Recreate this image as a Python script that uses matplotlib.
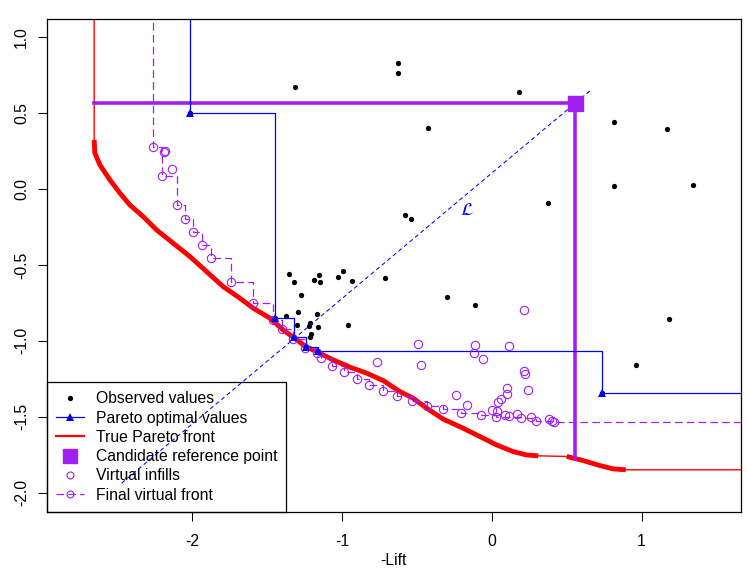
import numpy as np
import matplotlib
matplotlib.use("Agg")
import matplotlib.pyplot as plt
from matplotlib.lines import Line2D

plt.rcParams['font.family'] = ['Liberation Sans', 'DejaVu Sans']
plt.rcParams['axes.unicode_minus'] = False
plt.rcParams['lines.scale_dashes'] = False

PURPLE = '#A020F0'

# observed objective values (-Lift, second objective)
obs_x = [-1.312, -0.627, -0.627, 0.183, -0.425, 0.817, 1.171, 0.817, 1.344, 0.376,
         -0.578, -0.538, 1.182, 0.964, -0.298, -0.111, -0.959, -0.712, -1.352, -1.319,
         -1.152, -1.186, -1.146, -1.025, -0.992, -0.932, -1.272, -1.292, -1.166, -1.373,
         -1.212, -1.223, -1.299, -1.159, -1.206, -1.212,
         -2.013, -1.446, -1.319, -1.241, -1.159, 0.737]
obs_y = [0.671, 0.831, 0.765, 0.638, 0.401, 0.440, 0.394, 0.018, 0.025, -0.094,
         -0.171, -0.199, -0.856, -1.161, -0.713, -0.765, -0.897, -0.588, -0.561, -0.614,
         -0.568, -0.601, -0.614, -0.581, -0.542, -0.607, -0.698, -0.812, -0.825, -0.838,
         -0.884, -0.902, -0.897, -0.910, -0.957, -0.976,
         0.499, -0.851, -0.976, -1.038, -1.067, -1.341]

# pareto optimal observations
par_x = [-2.013, -1.446, -1.319, -1.241, -1.159, 0.737]
par_y = [0.499, -0.851, -0.976, -1.038, -1.067, -1.341]

# true pareto front (dense part), gap between index 32 and 33
front_x = [-2.654, -2.650, -2.616, -2.549, -2.483, -2.416, -2.327, -2.238, -2.127, -2.015,
           -1.904, -1.793, -1.682, -1.593, -1.481, -1.393, -1.326, -1.248, -1.170, -1.059,
           -0.947, -0.836, -0.725, -0.613, -0.525, -0.435, -0.324, -0.191, -0.079, 0.032,
           0.143, 0.232, 0.310,
           0.501, 0.610, 0.722, 0.810, 0.895]
front_y = [0.323, 0.238, 0.159, 0.060, -0.026, -0.105, -0.182, -0.269, -0.357, -0.445,
           -0.544, -0.643, -0.719, -0.785, -0.851, -0.928, -0.976, -1.034, -1.071, -1.126,
           -1.174, -1.213, -1.262, -1.335, -1.378, -1.444, -1.516, -1.576, -1.631, -1.686,
           -1.730, -1.752, -1.758,
           -1.762, -1.789, -1.822, -1.844, -1.850]
gap_at = 33

# candidate reference point
ref_x = 0.557
ref_y = 0.569

# line L
lline_x = [-2.471, 0.655]
lline_y = [-1.938, 0.646]
lab_x, lab_y = -0.168, -0.142

# virtual infills lying on the final virtual front
vf_x = [-2.260, -2.200, -2.100, -2.047, -1.993, -1.933, -1.872, -1.738, -1.597, -1.459,
        -1.403, -1.324, -1.244, -1.164, -1.141, -1.064, -0.985, -0.897, -0.818, -0.724,
        -0.630, -0.533, -0.430, -0.324, -0.202, -0.071, 0.029, 0.192, 0.298, 0.417]
vf_y = [0.277, 0.086, -0.105, -0.199, -0.283, -0.368, -0.454, -0.614, -0.748, -0.862,
        -0.924, -0.987, -1.047, -1.080, -1.115, -1.163, -1.207, -1.252, -1.294, -1.332,
        -1.366, -1.399, -1.432, -1.451, -1.477, -1.489, -1.505, -1.510, -1.526, -1.536]

# other virtual infills
vi_x = [-2.189, -2.180, -2.134, 0.216, -0.491, -0.111, -0.117, 0.114, -0.471, -0.057,
        -0.769, 0.216, 0.223, 0.243, 0.103, 0.103, 0.065, 0.043, -0.238, -0.164,
        0.003, 0.036, 0.089, 0.116, 0.166, 0.259, 0.383, 0.399]
vi_y = [0.246, 0.251, 0.130, -0.798, -1.022, -1.029, -1.082, -1.036, -1.161, -1.121,
        -1.141, -1.198, -1.220, -1.323, -1.310, -1.352, -1.381, -1.404, -1.358, -1.424,
        -1.455, -1.464, -1.490, -1.495, -1.484, -1.501, -1.516, -1.526]

fig = plt.figure(figsize=(7.49, 5.71), dpi=100)
ax = fig.add_axes([46.7 / 749, 1 - 512 / 571, (741 - 46.7) / 749, (512 - 19) / 571])
ax.set_xlim(-2.971, 1.664)
ax.set_ylim(-2.128, 1.120)

big = 10.0

# true front: thin connecting line + thick dense part
ax.plot([front_x[0]] + front_x + [big], [big] + front_y + [front_y[-1]],
        color='red', lw=1.0, zorder=2)
ax.plot(front_x[:gap_at], front_y[:gap_at], color='red', lw=3.5,
        solid_capstyle='butt', zorder=2.1)
ax.plot(front_x[gap_at:], front_y[gap_at:], color='red', lw=3.5,
        solid_capstyle='butt', zorder=2.1)

# reference point and its box
ref_floor = np.interp(ref_x, front_x, front_y)
ax.plot([front_x[0], ref_x], [ref_y, ref_y], color=PURPLE, lw=2.6, zorder=3)
ax.plot([ref_x, ref_x], [ref_y, ref_floor], color=PURPLE, lw=2.6, zorder=3)
ax.plot([ref_x], [ref_y], 's', color=PURPLE, ms=10.8, zorder=4)

# line L
ax.plot(lline_x, lline_y, color='blue', lw=0.75, ls=(0, (3, 2.2)), zorder=3.5)
ax.text(lab_x, lab_y, r'$\mathcal{L}$', color='blue', fontsize=13,
        ha='center', va='center')

# observed points
ax.plot(obs_x, obs_y, 'o', color='black', ms=3.8, mew=0, zorder=3)

# pareto staircase
sx = [par_x[0]] + par_x + [big]
sy = [big] + par_y + [par_y[-1]]
ax.step(sx, sy, where='post', color='blue', lw=0.9, zorder=3)
ax.plot(par_x, par_y, '^', color='blue', ms=6, mew=0, zorder=3.2)

# virtual infills
ax.plot(vi_x + vf_x, vi_y + vf_y, 'o', mfc='none', mec=PURPLE, ms=6, mew=0.8, zorder=3)

# final virtual front
fx = [vf_x[0]] + vf_x + [big]
fy = [big] + vf_y + [vf_y[-1]]
ax.step(fx, fy, where='post', color=PURPLE, lw=0.9, ls=(0, (5.5, 3)), zorder=3)

ax.set_xticks([-2, -1, 0, 1])
ax.set_yticks([-2.0, -1.5, -1.0, -0.5, 0.0, 0.5, 1.0])
ax.set_yticklabels(['-2.0', '-1.5', '-1.0', '-0.5', '0.0', '0.5', '1.0'],
                   rotation=90, va='center')
ax.tick_params(labelsize=11.3, length=6.7, width=0.75)
ax.tick_params(axis='x', pad=9)
ax.tick_params(axis='y', pad=6)
ax.set_xlabel('-Lift', fontsize=11.3, labelpad=3)
for s in ax.spines.values():
    s.set_linewidth(0.9)

handles = [
    Line2D([], [], ls='none', marker='o', color='black', ms=3.8, mew=0),
    Line2D([], [], color='blue', lw=0.9, marker='^', ms=6, mew=0),
    Line2D([], [], color='red', lw=1.6),
    Line2D([], [], ls='none', marker='s', color=PURPLE, ms=10),
    Line2D([], [], ls='none', marker='o', mfc='none', mec=PURPLE, ms=5, mew=0.8),
    Line2D([], [], color=PURPLE, lw=0.9, ls=(0, (5.5, 3)), marker='o',
           mfc='none', mec=PURPLE, ms=5, mew=0.8),
]
labels = ['Observed values', 'Pareto optimal values', 'True Pareto front',
          'Candidate reference point', 'Virtual infills', 'Final virtual front']
leg = ax.legend(handles, labels, loc='lower left', fontsize=11.3, borderaxespad=0,
                fancybox=False, edgecolor='black', framealpha=1, handlelength=1.76,
                handletextpad=0.75, labelspacing=0.27, borderpad=0.6)
leg.get_frame().set_linewidth(0.9)
leg.set_zorder(1.5)

fig.savefig('out.png', dpi=100)
